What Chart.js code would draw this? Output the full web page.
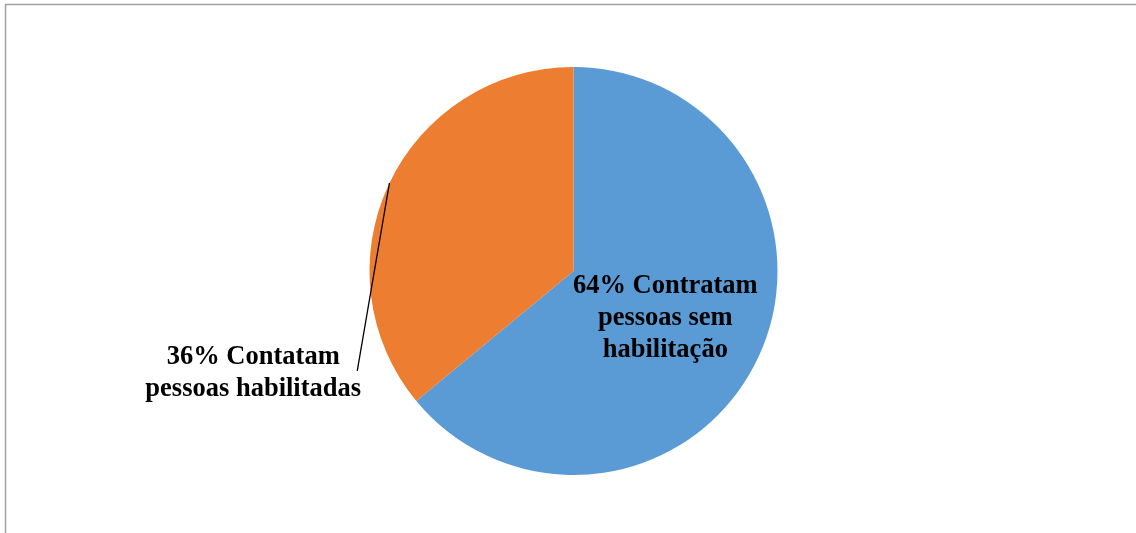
<!DOCTYPE html>
<html>
<head>
<meta charset="utf-8">
<script src="https://cdn.jsdelivr.net/npm/chart.js@4"></script>
<style>
  html, body { margin: 0; padding: 0; background: #fff; }
  #wrap { width: 1136px; height: 533px; position: relative; }
</style>
</head>
<body>
<div id="wrap"><canvas id="pieChart" width="1136" height="533"></canvas></div>
<script>
// Data
const categories = ['Contratam pessoas sem habilitação', 'Contatam pessoas habilitadas'];
const percentages = [64, 36];
const sliceColors = ['#5B9BD5', '#ED7D31'];
const sliceLabels = [
    ['64% Contratam', 'pessoas sem', 'habilitação'],
    ['36% Contatam', 'pessoas habilitadas']
];

// Gray frame like the original document box
const framePlugin = {
    id: 'frame',
    beforeDraw(chart) {
        const ctx = chart.ctx;
        ctx.save();
        ctx.strokeStyle = '#a0a0a0';
        ctx.lineWidth = 1.5;
        ctx.beginPath();
        ctx.moveTo(chart.width, 4.5);
        ctx.lineTo(5.5, 4.5);
        ctx.lineTo(5.5, chart.height);
        ctx.stroke();
        ctx.restore();
    }
};

// Data labels (one inside, one outside with a leader line)
const labelPlugin = {
    id: 'sliceLabels',
    afterDatasetsDraw(chart) {
        const ctx = chart.ctx;
        const arcs = chart.getDatasetMeta(0).data;
        const cx = arcs[0].x, cy = arcs[0].y, r = arcs[0].outerRadius;
        ctx.save();
        ctx.font = 'bold 26.5px "Liberation Serif", "Times New Roman", serif';
        ctx.fillStyle = '#000';
        ctx.textAlign = 'center';
        ctx.textBaseline = 'middle';
        const lh = 32;

        // inside label
        const l0 = sliceLabels[0];
        const x0 = cx + r * 0.45, y0 = cy + r * 0.23;
        l0.forEach((t, i) => ctx.fillText(t, x0, y0 + (i - (l0.length - 1) / 2) * lh));

        // outside label with leader line
        const l1 = sliceLabels[1];
        const x1 = cx - r * 1.57, y1 = cy + r * 0.5;
        l1.forEach((t, i) => ctx.fillText(t, x1, y1 + (i - (l1.length - 1) / 2) * lh));

        const a = Math.asin(-88 / r);
        ctx.strokeStyle = '#000';
        ctx.lineWidth = 1.3;
        ctx.beginPath();
        ctx.moveTo(cx - r * Math.cos(a), cy + r * Math.sin(a));
        ctx.lineTo(cx - r * 1.06, cy + r * 0.49);
        ctx.stroke();
        ctx.restore();
    }
};

function renderChart() {
    const ctx = document.getElementById('pieChart').getContext('2d');
    new Chart(ctx, {
        type: 'pie',
        data: {
            labels: categories,
            datasets: [{
                data: percentages,
                backgroundColor: sliceColors,
                borderWidth: 0
            }]
        },
        options: {
            responsive: false,
            animation: false,
            layout: { padding: { top: 67, bottom: 58, left: 11, right: 0 } },
            plugins: {
                legend: { display: false },
                tooltip: { enabled: false }
            }
        },
        plugins: [framePlugin, labelPlugin]
    });
}

window.onload = renderChart;
</script>
</body>
</html>
